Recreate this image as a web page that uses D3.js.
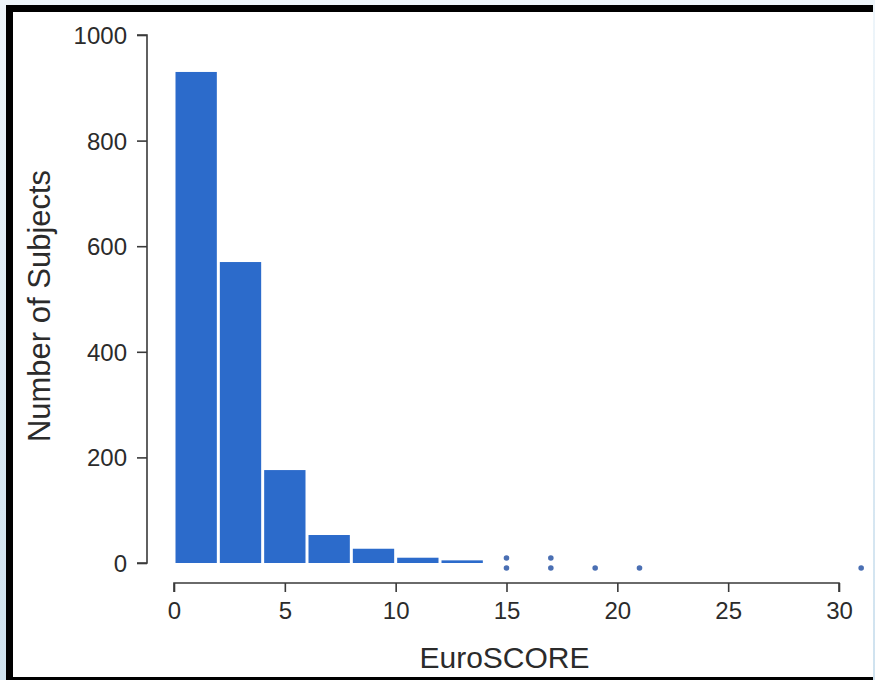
<!DOCTYPE html>
<html>
<head>
<meta charset="utf-8">
<script src="https://cdn.jsdelivr.net/npm/d3@7"></script>
<style>
  html, body { margin: 0; padding: 0; background: #eaf3f9; }
  svg { display: block; }
  text { font-family: "Liberation Sans", Arial, Helvetica, sans-serif; fill: #2b2b2b; }
</style>
</head>
<body>
<svg id="chart" width="875" height="680"></svg>
<script>
// Histogram of EuroSCORE (bin width 2) with sparse high scores shown as dots
const binStarts = [0, 2, 4, 6, 8, 10, 12];
const binWidth = 2;
const binCounts = [930, 570, 176, 53, 27, 10, 5];
const sparseScores = [15, 15, 17, 17, 19, 21, 31];
const xTicks = [0, 5, 10, 15, 20, 25, 30];
const yTicks = [0, 200, 400, 600, 800, 1000];

const svg = d3.select("#chart");

// page backdrop and black frame
const defs = svg.append("defs");
const grad = defs.append("linearGradient").attr("id", "edge").attr("x1", 0).attr("y1", 0).attr("x2", 0).attr("y2", 1);
grad.append("stop").attr("offset", "0%").attr("stop-color", "#eef5fa");
grad.append("stop").attr("offset", "100%").attr("stop-color", "#cfe2ef");
svg.append("rect").attr("x", 0).attr("y", 0).attr("width", 875).attr("height", 680).attr("fill", "url(#edge)");
svg.append("rect").attr("x", 6).attr("y", 5).attr("width", 867).attr("height", 675).attr("fill", "#000");
svg.append("rect").attr("x", 13).attr("y", 12).attr("width", 860).attr("height", 665).attr("fill", "#fff");

const x = d3.scaleLinear().domain([0, 30]).range([174, 839]);
const y = d3.scaleLinear().domain([0, 1000]).range([563, 35]);

const barColor = "#2c6bcb";

// histogram bars
svg.append("g").selectAll("rect")
  .data(binStarts.map((s, i) => ({ x0: s, x1: s + binWidth, n: binCounts[i] })))
  .join("rect")
  .attr("x", d => x(d.x0) + 1.5)
  .attr("width", d => x(d.x1) - x(d.x0) - 3)
  .attr("y", d => y(d.n))
  .attr("height", d => y(0) - y(d.n))
  .attr("fill", barColor);

// single subjects with high scores, stacked upward
const seen = {};
const dots = sparseScores.map(s => {
  const k = seen[s] || 0;
  seen[s] = k + 1;
  return { s, k };
});
svg.append("g").selectAll("circle")
  .data(dots)
  .join("circle")
  .attr("cx", d => x(d.s))
  .attr("cy", d => y(0) + 5 - d.k * 10)
  .attr("r", 2.8)
  .attr("fill", "#4a6fb3");

// y axis
const yAxis = svg.append("g")
  .attr("transform", `translate(147,0)`)
  .call(d3.axisLeft(y).tickValues(yTicks).tickSize(10).tickPadding(10).tickFormat(d3.format("d")));
yAxis.selectAll("text").style("font-size", "24px").attr("dy", "0.35em");

// x axis
const xAxis = svg.append("g")
  .attr("transform", `translate(0,583)`)
  .call(d3.axisBottom(x).tickValues(xTicks).tickSize(9).tickPadding(10));
xAxis.selectAll("text").style("font-size", "24px");

svg.selectAll(".domain, .tick line").attr("stroke", "#3a3a3a").attr("stroke-width", 1.6);
yAxis.select(".domain").attr("d", `M-10,${y(1000)}H0V${y(0)}H-10`);
xAxis.select(".domain").attr("d", `M${x(0)},9V0H${x(30)}V9`);

// axis titles
svg.append("text")
  .attr("x", x(15) - 2).attr("y", 668)
  .attr("text-anchor", "middle")
  .style("font-size", "30px")
  .text("EuroSCORE");

svg.append("text")
  .attr("transform", `translate(50,306) rotate(-90)`)
  .attr("text-anchor", "middle")
  .style("font-size", "31px")
  .text("Number of Subjects");
</script>
</body>
</html>
